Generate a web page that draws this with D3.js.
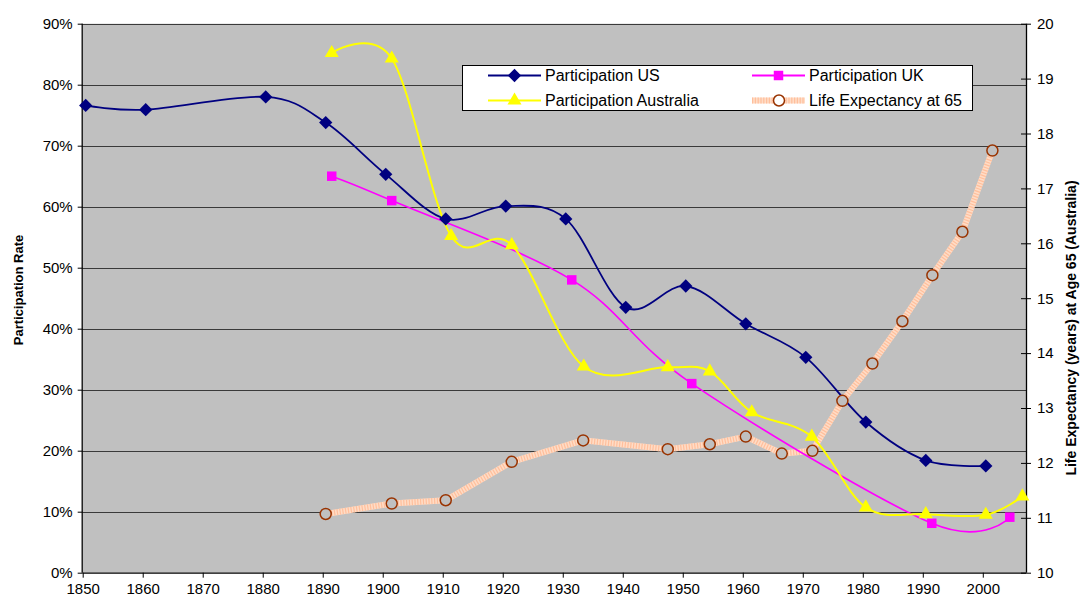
<!DOCTYPE html>
<html>
<head>
<meta charset="utf-8">
<script src="https://cdn.jsdelivr.net/npm/d3@7"></script>
<style>
  body { margin: 0; background: #fff; }
  svg text { font-family: "Liberation Sans", Arial, sans-serif; }
</style>
</head>
<body>
<svg id="chart" width="1081" height="603"></svg>
<script>
// participation rates (share of men 65+ in the labour force)
const usYears = [1850.5, 1860.5, 1880.5, 1890.5, 1900.5, 1910.5, 1920.5, 1930.5, 1940.5, 1950.5, 1960.5, 1970.5, 1980.5, 1990.5, 2000.5];
const usRate = [76.6, 75.9, 78.0, 73.8, 65.3, 58.0, 60.1, 58.0, 43.5, 47.0, 40.8, 35.3, 24.7, 18.4, 17.5];

const ukYears = [1891.5, 1901.5, 1931.5, 1951.5, 1991.5, 2004.5];
const ukRate = [65.0, 61.0, 48.0, 31.0, 8.1, 9.1];

const auYears = [1891.5, 1901.5, 1911.4, 1921.5, 1933.5, 1947.5, 1954.5, 1961.5, 1971.5, 1980.5, 1990.5, 2000.5, 2006.6];
const auRate = [85.2, 84.3, 55.2, 53.7, 33.8, 33.7, 33.0, 26.3, 22.3, 10.7, 9.6, 9.5, 12.5];

// life expectancy at 65, Australia (right axis)
const leYears = [1890.5, 1901.5, 1910.5, 1921.5, 1933.4, 1947.5, 1954.5, 1960.5, 1966.5, 1971.6, 1976.6, 1981.6, 1986.6, 1991.6, 1996.6, 2001.6];
const leValue = [11.07, 11.26, 11.32, 12.02, 12.41, 12.25, 12.34, 12.48, 12.17, 12.22, 13.13, 13.81, 14.58, 15.42, 16.21, 17.69];

const yearTicks = d3.range(1850, 2001, 10);
const rateTicks = d3.range(0, 91, 10);
const leTicks = d3.range(10, 21, 1);

const margin = { left: 82.7, right: 1026, top: 23.7, bottom: 572.7 };

const svg = d3.select("#chart");

const x = d3.scaleLinear().domain([1850, 2007.2]).range([margin.left, margin.right]);
const y = d3.scaleLinear().domain([0, 90]).range([margin.bottom, margin.top]);
const y2 = d3.scaleLinear().domain([10, 20]).range([margin.bottom, margin.top]);

// plot background
svg.append("rect")
  .attr("x", margin.left)
  .attr("y", margin.top)
  .attr("width", margin.right - margin.left)
  .attr("height", margin.bottom - margin.top)
  .attr("fill", "#c0c0c0");

// gridlines
svg.append("g")
  .selectAll("line")
  .data(rateTicks.slice(1))
  .join("line")
  .attr("x1", margin.left)
  .attr("x2", margin.right)
  .attr("y1", (d) => Math.round(y(d)) + 0.5)
  .attr("y2", (d) => Math.round(y(d)) + 0.5)
  .attr("stroke", "#3a3a3a")
  .attr("stroke-width", 1);

// axes
const xAxis = svg.append("g")
  .attr("transform", `translate(0,${margin.bottom})`)
  .call(d3.axisBottom(x).tickValues(yearTicks).tickFormat(d3.format("d")).tickSize(5).tickPadding(6));

const yAxis = svg.append("g")
  .attr("transform", `translate(${margin.left},0)`)
  .call(d3.axisLeft(y).tickValues(rateTicks).tickFormat((d) => d + "%").tickSize(5).tickPadding(5));

const y2Axis = svg.append("g")
  .attr("transform", `translate(${margin.right},0)`)
  .call(d3.axisRight(y2).tickValues(leTicks).tickSize(5).tickPadding(6));
y2Axis.selectAll(".tick line").attr("x1", -5);

[xAxis, yAxis, y2Axis].forEach((g) => {
  g.select(".domain").attr("stroke", "#000").attr("stroke-width", 1.3);
  g.selectAll(".tick line").attr("stroke", "#000");
  g.selectAll("text")
    .attr("fill", "#000")
    .style("font-size", "15px");
});
// cut the outer end ticks from the domain paths
xAxis.select(".domain").attr("d", `M${margin.left},0.5H${margin.right}`);
yAxis.select(".domain").attr("d", `M-0.5,${margin.bottom}V${margin.top}`);
y2Axis.select(".domain").attr("d", `M0.5,${margin.bottom}V${margin.top}`);

// axis titles
svg.append("text")
  .attr("transform", `translate(23,290) rotate(-90)`)
  .attr("text-anchor", "middle")
  .style("font-size", "13px")
  .style("font-weight", "bold")
  .text("Participation Rate");

svg.append("text")
  .attr("transform", `translate(1076,328) rotate(-90)`)
  .attr("text-anchor", "middle")
  .style("font-size", "14px")
  .style("font-weight", "bold")
  .text("Life Expectancy (years) at Age 65 (Australia)");

const smooth = d3.line().curve(d3.curveCatmullRom.alpha(0));

function series(years, vals, ys) {
  return years.map((yr, i) => [x(yr), ys(vals[i])]);
}

const usPts = series(usYears, usRate, y);
const ukPts = series(ukYears, ukRate, y);
const auPts = series(auYears, auRate, y);
const lePts = series(leYears, leValue, y2);

// life expectancy: thick hatched line
function hatchedLine(g, d) {
  g.append("path").attr("d", d).attr("fill", "none")
    .attr("stroke", "#ffdcc6").attr("stroke-width", 6);
  g.append("path").attr("d", d).attr("fill", "none")
    .attr("stroke", "#ffbf9c").attr("stroke-width", 6)
    .attr("stroke-dasharray", "1.2,1.6");
}

const leG = svg.append("g");
hatchedLine(leG, d3.line()(lePts));

svg.append("path").attr("d", smooth(usPts)).attr("fill", "none")
  .attr("stroke", "#000080").attr("stroke-width", 1.8);
svg.append("path").attr("d", smooth(ukPts)).attr("fill", "none")
  .attr("stroke", "#ff00ff").attr("stroke-width", 1.6);
svg.append("path").attr("d", smooth(auPts)).attr("fill", "none")
  .attr("stroke", "#ffff00").attr("stroke-width", 2);

// excel-style diamond = square turned 45 degrees
const diamond = d3.symbol().type(d3.symbolSquare).size(88)();
const square = d3.symbol().type(d3.symbolSquare).size(90)();
const triangle = d3.symbol().type(d3.symbolTriangle).size(85)();

function markers(pts, path, fill, rot) {
  svg.append("g")
    .selectAll("path")
    .data(pts)
    .join("path")
    .attr("transform", (d) => `translate(${d[0]},${d[1]}) rotate(${rot || 0})`)
    .attr("d", path)
    .attr("fill", fill);
}

markers(usPts, diamond, "#000080", 45);
markers(ukPts, square, "#ff00ff");
markers(auPts, triangle, "#ffff00");

svg.append("g")
  .selectAll("circle")
  .data(lePts)
  .join("circle")
  .attr("cx", (d) => d[0])
  .attr("cy", (d) => d[1])
  .attr("r", 5.5)
  .attr("fill", "#c0c0c0")
  .attr("stroke", "#993300")
  .attr("stroke-width", 1.5);

// legend
const legend = svg.append("g");
legend.append("rect")
  .attr("x", 462.5).attr("y", 65.5)
  .attr("width", 510).attr("height", 45)
  .attr("fill", "#fff").attr("stroke", "#000").attr("stroke-width", 1);

const legendItems = [
  { name: "Participation US", col: 0, row: 0, color: "#000080", sym: diamond, rot: 45 },
  { name: "Participation UK", col: 1, row: 0, color: "#ff00ff", sym: square, rot: 0 },
  { name: "Participation Australia", col: 0, row: 1, color: "#ffff00", sym: triangle, rot: 0 },
  { name: "Life Expectancy at 65", col: 1, row: 1, color: null, sym: null }
];

legendItems.forEach((it) => {
  const lx = it.col === 0 ? 488 : 752;
  const ly = it.row === 0 ? 75.5 : 100.5;
  if (it.color) {
    legend.append("line")
      .attr("x1", lx).attr("x2", lx + 53).attr("y1", ly).attr("y2", ly)
      .attr("stroke", it.color).attr("stroke-width", 2);
    legend.append("path")
      .attr("transform", `translate(${lx + 26.5},${ly}) rotate(${it.rot})`)
      .attr("d", it.sym).attr("fill", it.color);
  } else {
    hatchedLine(legend, `M${lx},${ly}H${lx + 53}`);
    legend.append("circle")
      .attr("cx", lx + 27).attr("cy", ly).attr("r", 5.5)
      .attr("fill", "#fff").attr("stroke", "#993300").attr("stroke-width", 1.5);
  }
  legend.append("text")
    .attr("x", lx + 57)
    .attr("y", ly + 5.5)
    .style("font-size", "16px")
    .text(it.name);
});
</script>
</body>
</html>
